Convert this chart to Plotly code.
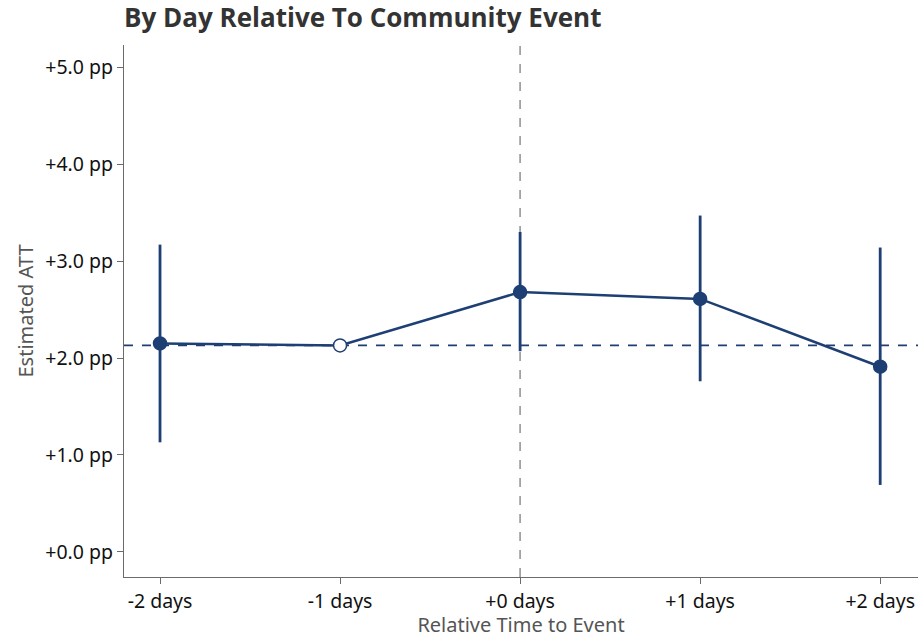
import plotly.graph_objects as go

# Event-study estimates by day relative to the community event
rel_days = [-2, -1, 0, 1, 2]
tick_labels = ["-2 days", "-1 days", "+0 days", "+1 days", "+2 days"]
att = [2.15, 2.13, 2.68, 2.61, 1.91]
ci_low = [1.13, 2.13, 2.07, 1.76, 0.69]
ci_high = [3.17, 2.13, 3.30, 3.47, 3.14]
reference_day = -1  # omitted period, drawn as an open marker

NAVY = "#1e3f74"
GRID_GRAY = "#9ea3a8"
AXIS_GRAY = "#6b6b6b"

err_plus = [h - v for h, v in zip(ci_high, att)]
err_minus = [v - l for v, l in zip(att, ci_low)]
ref_value = att[rel_days.index(reference_day)]

fig = go.Figure()

# Point estimates joined by a line, with confidence intervals
fig.add_trace(go.Scatter(
    x=rel_days,
    y=att,
    mode="lines+markers",
    line=dict(color=NAVY, width=2.5),
    marker=dict(
        size=13,
        color=["white" if d == reference_day else NAVY for d in rel_days],
        line=dict(color=NAVY, width=1.5),
    ),
    error_y=dict(
        type="data",
        symmetric=False,
        array=err_plus,
        arrayminus=err_minus,
        color=NAVY,
        thickness=2.8,
        width=0,
    ),
    showlegend=False,
    hoverinfo="skip",
))

# Reference lines: event day (vertical) and baseline level (horizontal)
fig.add_shape(type="line", xref="x", yref="paper", x0=0, x1=0, y0=0, y1=1,
              line=dict(color=GRID_GRAY, width=1.8, dash="dash"), layer="below")
fig.add_shape(type="line", xref="paper", yref="y", x0=0, x1=1,
              y0=ref_value, y1=ref_value,
              line=dict(color=NAVY, width=1.8, dash="dash"), layer="below")

tick_font = dict(family="Noto Sans, sans-serif", size=19.5, color="#111111")
title_font = dict(family="Noto Sans, sans-serif", size=20, color="#555555")

fig.update_layout(
    width=918,
    height=638,
    margin=dict(l=124, r=0, t=45, b=61),
    paper_bgcolor="white",
    plot_bgcolor="white",
    title=dict(
        text="<b>By Day Relative To Community Event</b>",
        font=dict(family="Open Sans, sans-serif", size=26, color="#333333"),
        xref="paper", x=0, xanchor="left",
        yref="container", y=0.972, yanchor="middle",
    ),
    xaxis=dict(
        range=[-2.2, 2.21],
        tickmode="array",
        tickvals=rel_days,
        ticktext=tick_labels,
        tickfont=tick_font,
        ticks="outside",
        ticklen=6,
        tickcolor=AXIS_GRAY,
        showline=True,
        linecolor=AXIS_GRAY,
        linewidth=1.2,
        showgrid=False,
        zeroline=False,
        title=dict(text="Relative Time to Event", font=title_font, standoff=4),
    ),
    yaxis=dict(
        range=[-0.26, 5.23],
        tickmode="array",
        tickvals=[0, 1, 2, 3, 4, 5],
        ticktext=["+0.0 pp", "+1.0 pp", "+2.0 pp", "+3.0 pp", "+4.0 pp", "+5.0 pp"],
        tickfont=tick_font,
        ticks="outside",
        ticklen=6,
        tickcolor=AXIS_GRAY,
        showline=True,
        linecolor=AXIS_GRAY,
        linewidth=1.2,
        showgrid=False,
        zeroline=False,
        title=dict(text="Estimated ATT", font=title_font, standoff=6),
    ),
)

fig.write_html("out.html")
